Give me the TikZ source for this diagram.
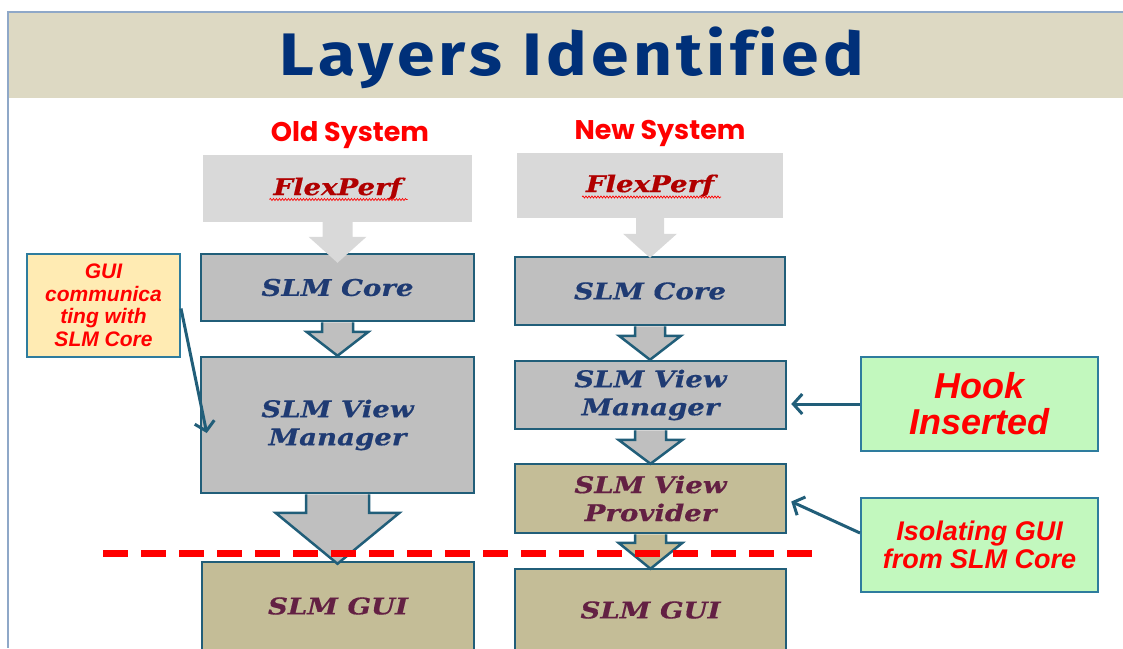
\documentclass[tikz,border=0pt]{standalone}
\usepackage{fontspec}
\setmainfont{Liberation Sans}
\newfontfamily\titlefont[FakeStretch=1.13,LetterSpace=7,Ligatures=NoCommon]{Fira Sans}
\newfontfamily\headfont{Poppins}
\newfontfamily\boxfont[FakeStretch=1.2,FakeBold=0.6]{DejaVu Serif}
\usetikzlibrary{calc,arrows.meta,decorations.pathmorphing}

\definecolor{band}{HTML}{DDD9C3}
\definecolor{frame}{HTML}{8FA8C8}
\definecolor{titleblue}{HTML}{003079}
\definecolor{edge}{HTML}{215E79}
\definecolor{calloutedge}{HTML}{2E7C9E}
\definecolor{boxgray}{HTML}{BFBFBF}
\definecolor{lightgray}{HTML}{D9D9D9}
\definecolor{tan}{HTML}{C4BD97}
\definecolor{navytext}{HTML}{1F3B73}
\definecolor{maroontext}{HTML}{632043}
\definecolor{flexred}{HTML}{B00000}
\definecolor{notegreen}{HTML}{C2F8BE}
\definecolor{noteyellow}{HTML}{FFEBB3}

\tikzset{
  layer/.style={draw=edge, line width=2.5pt, inner sep=0pt,
    font=\boxfont\bfseries\itshape\fontsize{23}{28}\selectfont, align=center},
  corelayer/.style={layer, fill=boxgray, text=navytext},
  guilayer/.style={layer, fill=tan, text=maroontext},
  toplayer/.style={inner sep=0pt, fill=lightgray, text=flexred,
    font=\boxfont\bfseries\itshape\fontsize{23}{28}\selectfont},
  note/.style={draw=calloutedge, line width=2pt, inner sep=0pt, align=center, text=red},
  heading/.style={text=red, font=\headfont\bfseries\fontsize{27}{30}\selectfont, anchor=base},
  pointer/.style={draw=edge, line width=3pt,
    -{Straight Barb[length=9pt,width=20pt,line width=3pt]}},
  squiggle/.style={draw=red, line width=0.7pt,
    decorate, decoration={snake, amplitude=1pt, segment length=3pt}},
}

% block arrow from the bottom of #1 down to the top of #2
% #3 half shaft width, #4 half head width, #5 head length, #6 overlap, #7 style
\newcommand\blockarrow[7]{%
  \path let \p1=(#1.south), \p2=(#2.north) in
    [#7] (\x1-#3pt,\y1) -- (\x1-#3pt,\y2+#5pt-#6pt) -- (\x1-#4pt,\y2+#5pt-#6pt)
      -- (\x1,\y2-#6pt) -- (\x1+#4pt,\y2+#5pt-#6pt) -- (\x1+#3pt,\y2+#5pt-#6pt)
      -- (\x1+#3pt,\y1);}

\begin{document}
\begin{tikzpicture}[x=1pt,y=-1pt]
\useasboundingbox (0,0) rectangle (1123,648);
\clip (0,0) rectangle (1123,648);

% slide frame and title band
\fill[band] (8,12) rectangle (1123,98);
\draw[frame, line width=1.2pt] (1123,12) -- (8,12) -- (8,648);
\node[text=titleblue, anchor=base, font=\titlefont\bfseries\fontsize{60}{60}\selectfont]
  (title) at (572,75) {Layers Identified};

% column headings
\node[heading] (oldhead) at (350,141) {Old System};
\node[heading] (newhead) at (660,139) {New System};

% old system stack
\node[toplayer, minimum width=269pt, minimum height=67pt] (fp_o) at (337.5,188.5) {FlexPerf};
\node[corelayer, minimum width=273pt, minimum height=67pt] (core_o) at (337.5,287.5) {SLM Core};
\node[corelayer, minimum width=273pt, minimum height=136pt] (vm_o) at (337.5,425) {SLM View\\Manager};
\node[guilayer, minimum width=272pt, minimum height=88pt] (gui_o) at (338,606) {SLM GUI};

% new system stack
\node[toplayer, minimum width=266pt, minimum height=65pt] (fp_n) at (650,185.5) {FlexPerf};
\node[corelayer, minimum width=270pt, minimum height=68pt] (core_n) at (650,291) {SLM Core};
\node[corelayer, minimum width=271pt, minimum height=68pt] (vm_n) at (650.5,395) {SLM View\\Manager};
\node[guilayer, minimum width=271pt, minimum height=69pt] (prov_n) at (650.5,498.5) {SLM View\\Provider};
\node[guilayer, minimum width=271pt, minimum height=82pt] (gui_n) at (650.5,610) {SLM GUI};

% spelling marks under FlexPerf
\draw[squiggle] ($(fp_o.center)+(-68,11)$) -- ($(fp_o.center)+(70,11)$);
\draw[squiggle] ($(fp_n.center)+(-68,11.5)$) -- ($(fp_n.center)+(71,11.5)$);

% flow arrows between layers
\blockarrow{fp_o}{core_o}{15}{29}{26}{10}{fill=lightgray}
\blockarrow{fp_n}{core_n}{14}{27}{24}{2}{fill=lightgray}
\blockarrow{core_o}{vm_o}{15.5}{31}{24}{0}{fill=boxgray, draw=edge, line width=2.5pt}
\blockarrow{core_n}{vm_n}{15}{31}{24}{0}{fill=boxgray, draw=edge, line width=2.5pt}
\blockarrow{vm_o}{gui_o}{31.5}{62}{51}{3}{fill=boxgray, draw=edge, line width=2.5pt}
\blockarrow{vm_n}{prov_n}{15.5}{32}{24}{1}{fill=boxgray, draw=edge, line width=2.5pt}
\blockarrow{prov_n}{gui_n}{15.5}{32}{26}{1}{fill=tan, draw=edge, line width=2.5pt}

% GUI / core boundary
\coordinate (cutL) at (103,553);
\coordinate (cutR) at (815,553);
\draw[red, line width=7pt, dash pattern=on 25pt off 13pt] (cutL) -- (cutR);

% callouts
\node[note, fill=noteyellow, minimum width=153pt, minimum height=103pt,
  font=\bfseries\itshape\fontsize{21}{22.5}\selectfont] (gui_c) at (103.5,305.5)
  {GUI\\communica\\ting with\\SLM Core};
\node[note, fill=notegreen, minimum width=237pt, minimum height=94pt,
  font=\bfseries\itshape\fontsize{36}{36}\selectfont] (hook) at (979.5,404)
  {Hook\\Inserted};
\node[note, fill=notegreen, minimum width=237pt, minimum height=94pt,
  font=\bfseries\itshape\fontsize{27}{28}\selectfont] (iso) at (979.5,545)
  {Isolating GUI\\from SLM Core};

% callout pointers
\coordinate (guitip) at ($(vm_o.west)+(7,8)$);
\draw[pointer] ($(gui_c.east)+(0,3)$) -- (guitip);
\draw[pointer, shorten >=4pt] (hook.west) -- (hook.west -| vm_n.east);
\coordinate (isotip) at ($(prov_n.east)+(4,3)$);
\draw[pointer] ($(iso.west)+(0,-12)$) -- (isotip);
\end{tikzpicture}
\end{document}
